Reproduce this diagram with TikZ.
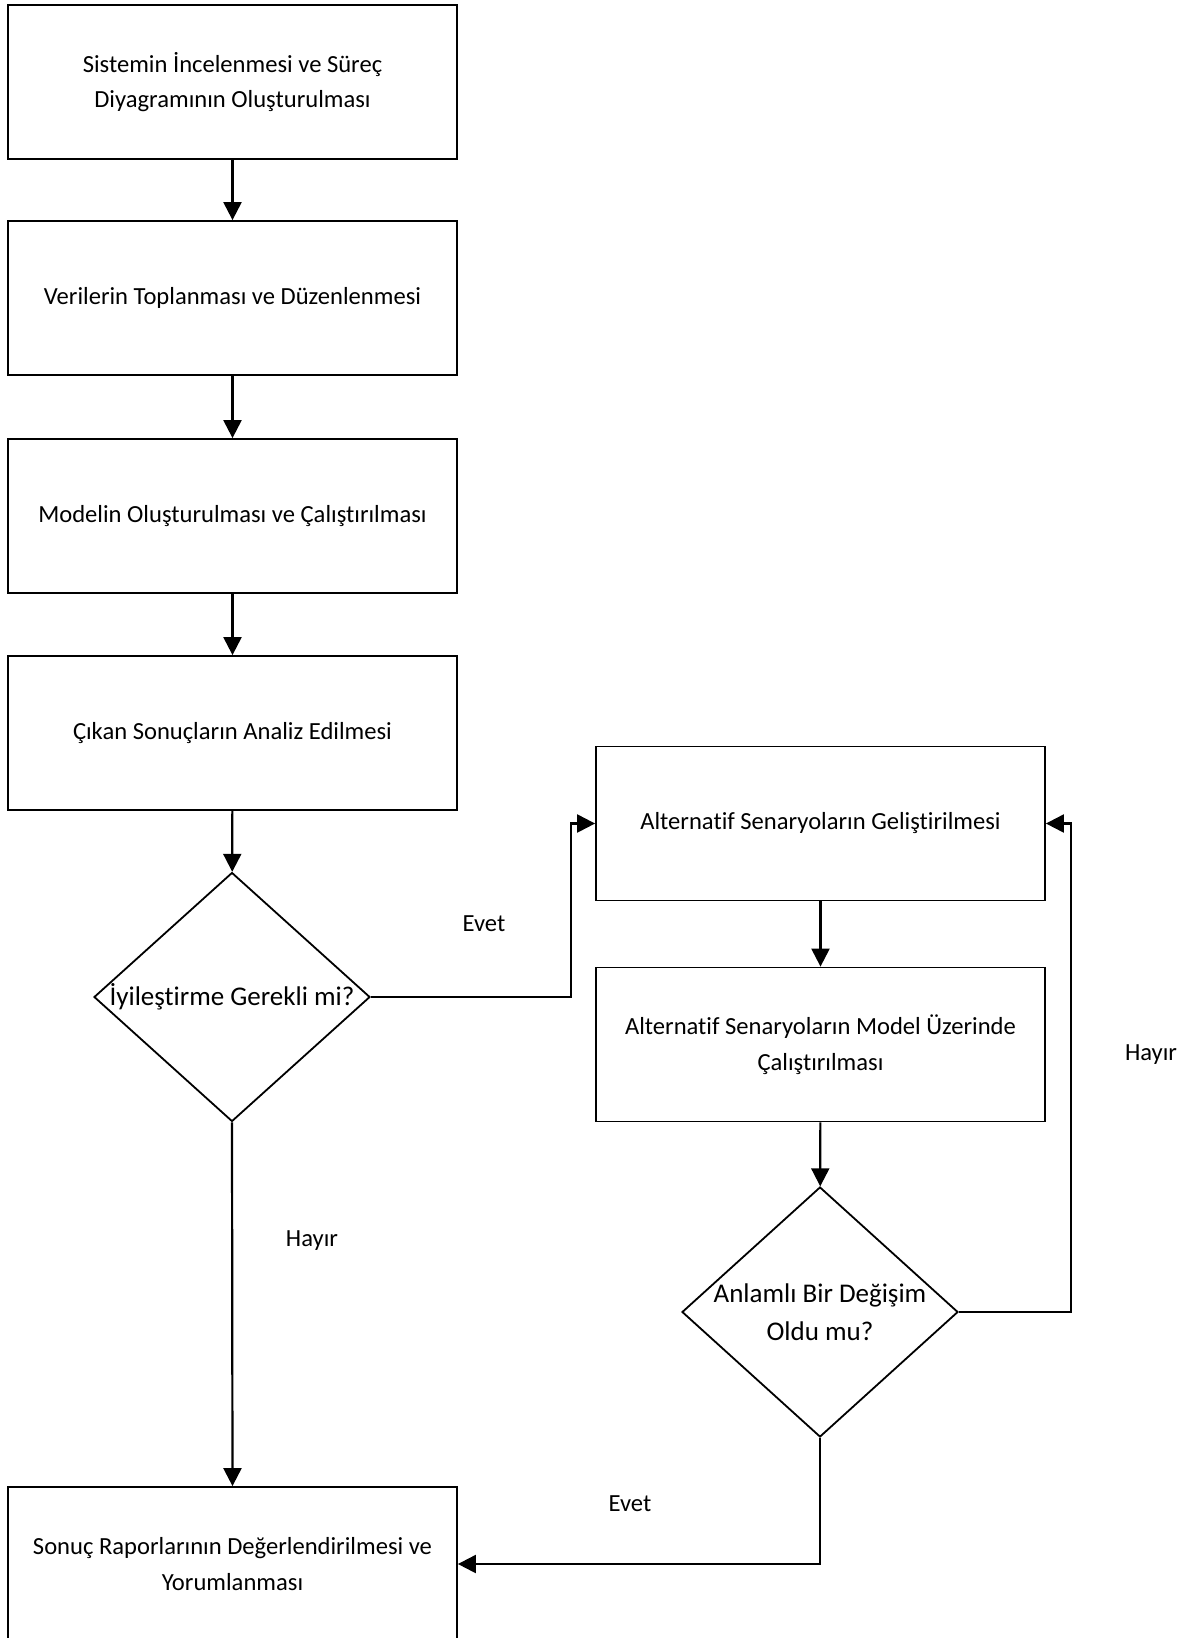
\documentclass[tikz,border=0pt]{standalone}
\usepackage{fontspec}
\setmainfont{Carlito}[Ligatures={NoCommon,NoContextual}]
\usetikzlibrary{shapes.geometric,arrows.meta}
\begin{document}
\begin{tikzpicture}[x=1pt,y=-1pt,
  boxnode/.style={draw=black, line width=1.8pt, fill=white, rectangle,
    minimum width=449pt, minimum height=154pt, inner sep=0pt, align=center,
    font=\fontsize{24.6}{35.5}\selectfont},
  dianode/.style={draw=black, line width=1.8pt, fill=white, diamond,
    minimum width=276pt, minimum height=249pt, inner sep=0pt},
  diatext/.style={font=\fontsize{27}{38}\selectfont, align=center, inner sep=0pt},
  lbl/.style={font=\fontsize{24.6}{29}\selectfont, inner sep=0pt},
  arr/.style={line width=2.2pt, -{Triangle[length=18pt,width=18pt]}}]
\fill[white] (0,0) rectangle (1189,1638);
\useasboundingbox (0,0) rectangle (1189,1638);

\node[boxnode] (b1) at (232.5,82) {Sistemin İncelenmesi ve Süreç\\Diyagramının Oluşturulması};
\node[boxnode] (b2) at (232.5,298) {Verilerin Toplanması ve Düzenlenmesi};
\node[boxnode] (b3) at (232.5,516) {Modelin Oluşturulması ve Çalıştırılması};
\node[boxnode] (b4) at (232.5,733) {Çıkan Sonuçların Analiz Edilmesi};
\node[dianode, label={[diatext]center:İyileştirme Gerekli mi?}] (d1) at (232,997) {};
\node[boxnode] (b5) at (820.5,823.5) {Alternatif Senaryoların Geliştirilmesi};
\node[boxnode] (b6) at (820.5,1044.5) {Alternatif Senaryoların Model Üzerinde\\Çalıştırılması};
\node[dianode, minimum height=250pt, label={[diatext]center:Anlamlı Bir Değişim\\Oldu mu?}] (d2) at (820,1312) {};
\node[boxnode] (b7) at (232.5,1564) {Sonuç Raporlarının Değerlendirilmesi ve\\Yorumlanması};

\coordinate (c1) at (571,823.5);
\coordinate (c2) at (1071,823.5);

\draw[arr] (b1) -- (b2);
\draw[arr] (b2) -- (b3);
\draw[arr] (b3) -- (b4);
\draw[arr] (b4) -- (d1);
\draw[arr] (d1.east) -| (c1) -- (b5.west);
\draw[arr] (d1.south) -- (b7.north);
\draw[arr] (b5) -- (b6);
\draw[arr] (b6) -- (d2);
\draw[arr] (d2.east) -| (c2) -- (b5.east);
\draw[arr] (d2.south) |- (b7.east);

\node[lbl] (evet1) at (484,924) {Evet};
\node[lbl] (hayir1) at (312,1241) {Hayır};
\node[lbl] (hayir2) at (1151,1055) {Hayır};
\node[lbl] (evet2) at (630,1504) {Evet};
\end{tikzpicture}
\end{document}
